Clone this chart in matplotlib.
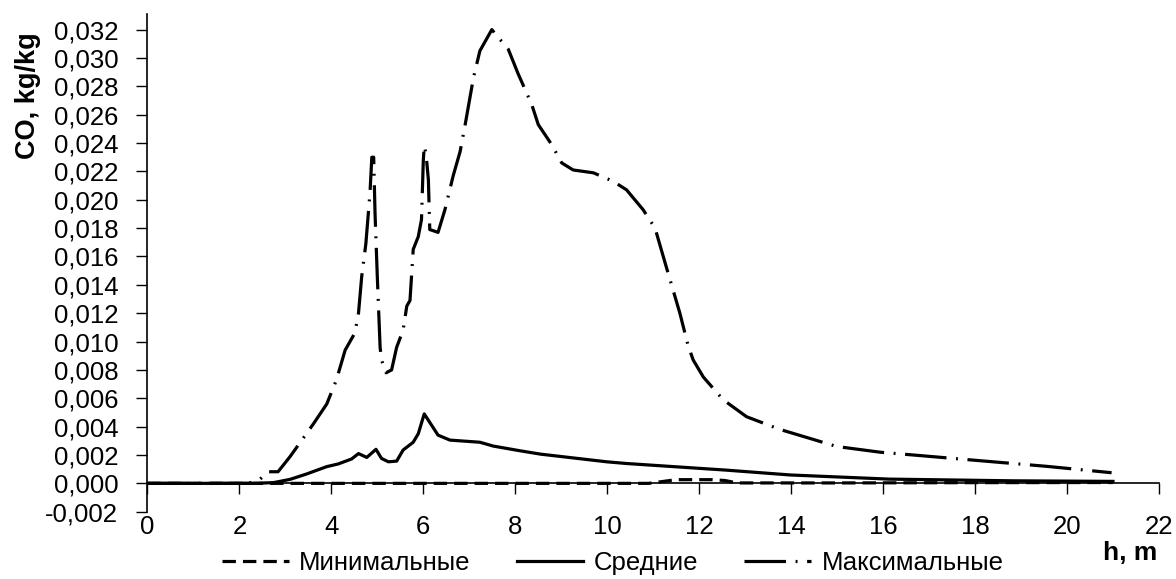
import matplotlib.pyplot as plt
from matplotlib.ticker import FuncFormatter, MultipleLocator

plt.rcParams['font.family'] = ['Liberation Sans', 'DejaVu Sans']

# minimum CO concentration (dashed)
h_min = [0, 10.9, 11.14, 11.49, 12.29, 12.56, 12.83, 15.0, 18.0, 21.0]
co_min = [0, 0, 0.0001, 0.00026, 0.00026, 0.0002, 0.00003, 0.00003, 0.00005, 0.00006]

# average CO concentration (solid)
h_avg = [0, 2.3, 2.74, 3.1, 3.46, 3.9, 4.15, 4.44, 4.59, 4.77, 4.97, 5.09, 5.24,
         5.42, 5.56, 5.78, 5.89, 6.02, 6.32, 6.58, 7.23, 7.52, 8.1, 8.55, 9.99,
         10.42, 12.0, 12.56, 13.99, 16.13, 18.81, 21.0]
co_avg = [0, 0, 0.00005, 0.00028, 0.00066, 0.00118, 0.00137, 0.00172, 0.0021,
          0.00183, 0.0024, 0.00176, 0.00152, 0.00157, 0.00235, 0.0029, 0.0035,
          0.0049, 0.0034, 0.00305, 0.0029, 0.00263, 0.0023, 0.00206, 0.00152,
          0.0014, 0.00106, 0.00094, 0.00059, 0.0003, 0.00018, 0.00014]

# maximum CO concentration (dash-dot)
h_max = [0, 2.2, 2.45, 2.63, 2.84, 3.1, 3.61, 3.9, 4.11, 4.30, 4.51, 4.59, 4.66,
         4.75, 4.84, 4.88, 4.92, 4.95, 5.0, 5.06, 5.09, 5.19, 5.31, 5.42, 5.56,
         5.64, 5.71, 5.78, 5.89, 5.96, 6.0, 6.02, 6.06, 6.11, 6.14, 6.32, 6.47,
         6.65, 6.80, 6.91, 7.09, 7.23, 7.49, 7.85, 8.06, 8.36, 8.5, 8.79, 9.01,
         9.26, 9.70, 10.13, 10.42, 10.78, 11.04, 11.29, 11.58, 11.76, 11.87,
         12.09, 12.52, 13.03, 13.76, 14.48, 14.99, 15.93, 17.02, 18.1, 19.56, 20.97]
co_max = [0, 0, 0.0003, 0.00082, 0.00082, 0.00188, 0.0042, 0.0056, 0.0073,
          0.0094, 0.0106, 0.012, 0.0146, 0.0169, 0.0205, 0.0230, 0.0230, 0.019,
          0.0145, 0.0096, 0.0087, 0.0078, 0.008, 0.0096, 0.0108, 0.0125, 0.0129,
          0.0165, 0.0174, 0.0186, 0.0228, 0.0238, 0.0232, 0.0214, 0.0179, 0.0177,
          0.0193, 0.0217, 0.0234, 0.0253, 0.0286, 0.0305, 0.0320, 0.0306, 0.0289,
          0.0267, 0.0253, 0.0239, 0.0226, 0.0221, 0.0219, 0.0213, 0.0207, 0.0193,
          0.0180, 0.0152, 0.0120, 0.0097, 0.0087, 0.0075, 0.0059, 0.0047, 0.0038,
          0.0031, 0.0026, 0.0022, 0.0019, 0.0016, 0.0012, 0.00075]

labels = ['Минимальные', 'Средние', 'Максимальные']

fig = plt.figure(figsize=(11.76, 5.79), dpi=100)
ax = fig.add_axes([0.1254, 0.1162, 0.8601, 0.8596])

lw = 2.3
ax.plot(h_min, co_min, color='black', lw=lw, linestyle=(0, (4.2, 2.2)), label=labels[0])
ax.plot(h_avg, co_avg, color='black', lw=lw, label=labels[1])
ax.plot(h_max, co_max, color='black', lw=lw, linestyle=(0, (13, 3.0, 0.6, 3.0)), label=labels[2])

ax.set_xlim(0, 22)
ax.set_ylim(-0.002, 0.0331)
ax.xaxis.set_major_locator(MultipleLocator(2))
ax.set_yticks([i * 0.002 for i in range(-1, 17)])
ax.yaxis.set_major_formatter(FuncFormatter(lambda v, p: f'{v:.3f}'.replace('.', ',').replace('-0,000', '0,000')))

ax.spines['top'].set_visible(False)
ax.spines['right'].set_visible(False)
ax.spines['bottom'].set_position(('data', 0))
for s in ('left', 'bottom'):
    ax.spines[s].set_linewidth(1.2)

ax.tick_params(axis='y', direction='out', length=8, width=1, pad=13, labelsize=18.5)
ax.tick_params(axis='x', direction='out', length=8, width=1, pad=15, labelsize=18.5)

fig.text(0.024, 1 - 96 / 579, 'CO, kg/kg', rotation=90, ha='center', va='center',
         fontsize=19.5, fontweight='bold')
fig.text(1130 / 1176, 1 - 553 / 579, 'h, m', ha='center', va='center',
         fontsize=19, fontweight='bold')

fig.legend(loc='center', bbox_to_anchor=(0.521, 0.027), ncol=3, frameon=False,
           fontsize=18.5, handlelength=2.6, handletextpad=0.4, columnspacing=1.8,
           borderaxespad=0, borderpad=0)

fig.savefig('out.png', dpi=100)
